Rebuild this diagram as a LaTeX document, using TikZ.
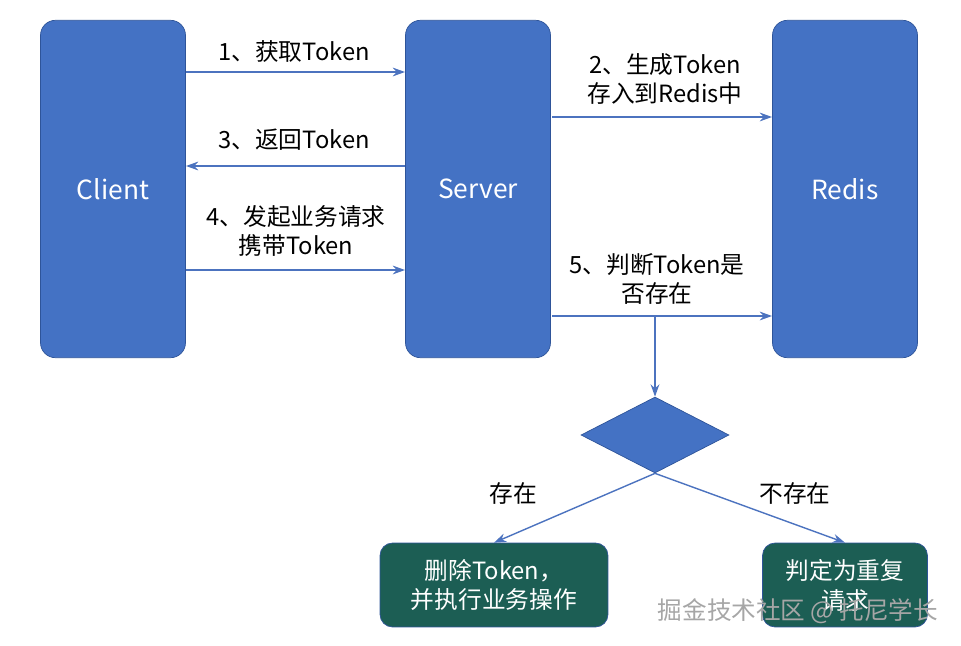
\documentclass[tikz,border=0pt]{standalone}
\usepackage{fontspec}
\setmainfont{Liberation Sans}
\newfontfamily\cjk{Noto Sans CJK SC}
\usetikzlibrary{arrows.meta}
\usetikzlibrary{positioning}
\usetikzlibrary{shapes.geometric}
\definecolor{boxblue}{rgb}{0.267, 0.447, 0.769}
\definecolor{boxedge}{rgb}{0.18, 0.33, 0.6}
\definecolor{boxgreen}{rgb}{0.11, 0.37, 0.33}
\definecolor{linkblue}{rgb}{0.30, 0.45, 0.75}

\begin{document}
\begin{tikzpicture}[x=0.02cm, y=-0.02cm, font=\cjk,
  actor/.style={draw=boxedge, fill=boxblue, rounded corners=0.3cm, minimum width=2.9cm, minimum height=6.75cm, text=white, font=\cjk\fontsize{15}{18}\selectfont},
  result/.style={draw=boxedge, fill=boxgreen, rounded corners=0.25cm, minimum height=1.68cm, text=white, align=center, font=\cjk\fontsize{13.5}{17}\selectfont},
  link/.style={draw=linkblue, thick, -{Stealth[length=7pt,width=5pt]}},
  lbl/.style={align=center, font=\cjk\fontsize{13.5}{17}\selectfont}]

\useasboundingbox (0,0) rectangle (961,646);

\node[actor] (client) at (113,189) {Client};
\node[actor] (server) at (478,189) {Server};
\node[actor] (redis) at (845,189) {Redis};

\node[diamond, draw=boxedge, fill=boxblue, minimum width=2.96cm, minimum height=1.52cm, inner sep=0pt, aspect=2] (check) at (655,435) {};

\node[result, minimum width=4.56cm] (delete) at (494,585) {删除Token，\\并执行业务操作};
\node[result, minimum width=3.3cm] (repeat) at (845,585) {判定为重复\\请求};

% arrows between actors
\coordinate (c1) at (186,72);  \coordinate (s1) at (405,72);
\coordinate (s3) at (405,166); \coordinate (c3) at (186,166);
\coordinate (c4) at (186,270); \coordinate (s4) at (405,270);
\coordinate (s2) at (552,117); \coordinate (r2) at (772,117);
\coordinate (s5) at (552,316); \coordinate (r5) at (772,316);
\coordinate (t5) at (655,316);

\draw[link] (c1) -- (s1);
\draw[link] (s3) -- (c3);
\draw[link] (c4) -- (s4);
\draw[link] (s2) -- (r2);
\draw[link] (s5) -- (r5);
\draw[link] (t5) -- (check.north);
\draw[link] (check.south) -- (delete.north);
\draw[link] (check.south) -- (repeat.north);

\node[lbl] at (294,52) {1、获取Token};
\node[lbl] at (294,140) {3、返回Token};
\node[lbl] at (296,231) {4、发起业务请求\\携带Token};
\node[lbl] at (665,79) {2、生成Token\\存入到Redis中};
\node[lbl] at (657,279) {5、判断Token是\\否存在};
\node[lbl] at (513,493) {存在};
\node[lbl] at (795,493) {不存在};

\node[text=gray!70, font=\cjk\fontsize{14}{17}\selectfont] at (798,611) {掘金技术社区 @ 托尼学长};

\end{tikzpicture}
\end{document}
